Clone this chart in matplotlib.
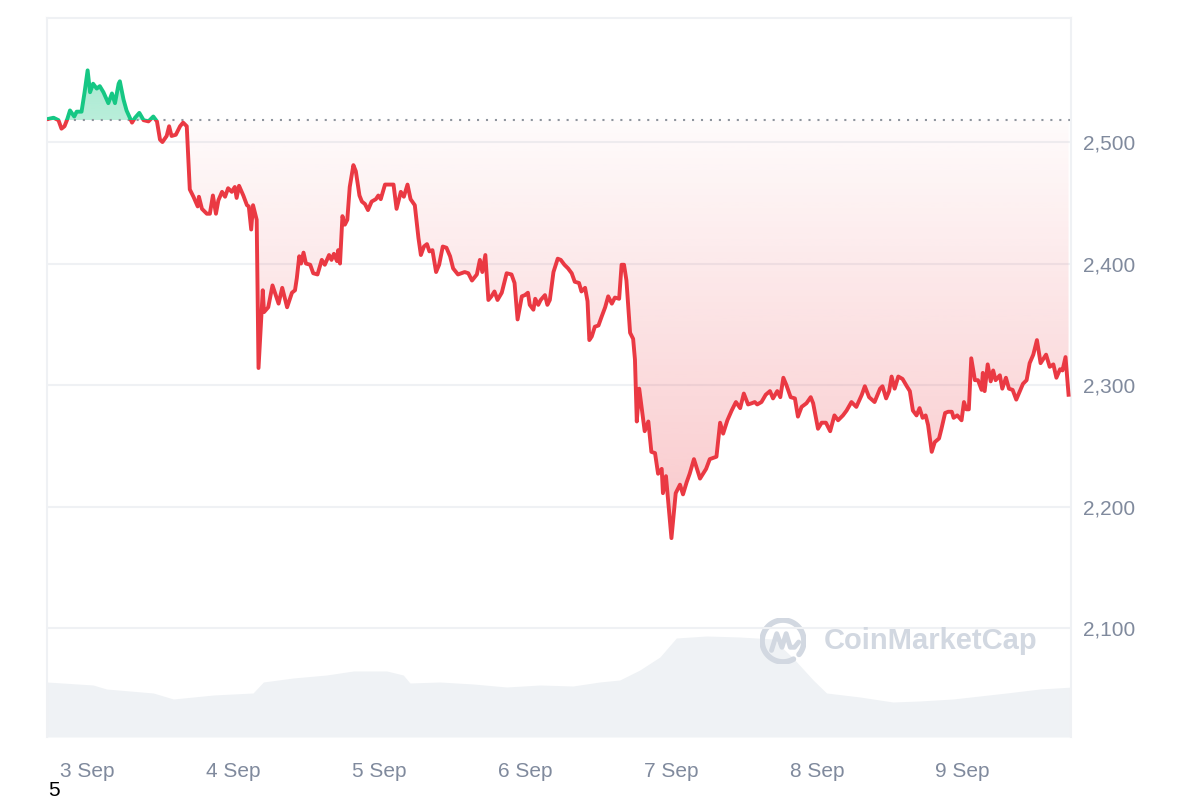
import numpy as np
import matplotlib
matplotlib.use("Agg")
from matplotlib import pyplot as plt
from matplotlib.patches import Rectangle, PathPatch
from matplotlib.path import Path

plt.rcParams['font.family'] = ['Liberation Sans', 'DejaVu Sans']

# hours counted from 3 Sep 00:00
price_hours = [
    -6.4, -5.5, -4.7, -4.2, -3.7, -3.3, -2.8, -2.1, -1.7, -0.9, -0.4, 0.1,
    0.5, 1.0, 1.6, 2.1, 2.7, 3.5, 4.1, 4.6, 5.2, 5.4, 6.0, 6.5, 7.4, 7.9,
    8.6, 9.3, 10.1, 10.9, 11.5, 12.0, 12.4, 13.1, 13.5, 13.9, 14.6, 15.3,
    15.8, 16.4, 16.9, 17.5, 18.2, 18.4, 18.9, 19.7, 20.2, 20.7, 21.2, 21.6,
    22.2, 22.7, 23.2, 23.8, 24.3, 24.6, 25.0, 25.7, 26.3, 26.6, 27.0, 27.3,
    27.9, 28.2, 28.9, 29.1, 29.8, 30.5, 31.1, 31.5, 32.1, 32.9, 33.7, 34.2,
    34.5, 34.9, 35.2, 35.6, 36.0, 36.7, 37.2, 37.9, 38.6, 39.1, 39.8, 40.2,
    40.6, 41.1, 41.3, 41.6, 42.0, 42.4, 42.8, 43.2, 43.8, 44.2, 44.8, 45.2,
    45.7, 46.2, 46.8, 47.5, 47.9, 48.3, 49.0, 49.8, 50.4, 50.9, 51.6, 52.1,
    52.7, 53.2, 53.9, 54.5, 54.9, 55.4, 55.9, 56.3, 56.8, 57.4, 57.9, 58.5,
    59.1, 59.7, 60.2, 61.0, 62.1, 62.7, 63.3, 64.1, 64.6, 65.0, 65.5, 66.0,
    66.5, 67.0, 67.5, 68.2, 69.0, 69.8, 70.3, 70.8, 71.5, 72.0, 72.5, 72.8,
    73.4, 73.7, 74.2, 74.6, 75.3, 75.7, 76.1, 76.7, 77.4, 77.9, 78.5, 79.1,
    79.7, 80.2, 80.9, 81.3, 81.9, 82.3, 82.6, 83.0, 83.5, 84.1, 84.6, 85.2,
    85.7, 86.3, 86.8, 87.5, 87.9, 88.3, 88.7, 89.3, 89.8, 90.1, 90.4, 90.8,
    91.4, 91.7, 92.3, 92.8, 93.4, 93.9, 94.5, 94.7, 95.2, 96.1, 96.8, 97.5,
    98.0, 98.6, 99.1, 99.8, 100.8, 101.8, 102.4, 103.5, 104.1, 104.6, 105.3,
    106.0, 106.7, 107.4, 108.0, 108.7, 109.3, 109.8, 110.2, 110.9, 111.6,
    112.3, 112.8, 113.5, 114.0, 114.5, 115.0, 115.7, 116.4, 116.9, 117.5,
    118.3, 119.0, 119.4, 120.2, 120.8, 121.5, 122.2, 122.9, 123.5, 124.3,
    124.9, 125.7, 126.5, 127.4, 127.9, 128.6, 129.5, 130.4, 130.8, 131.4,
    131.9, 132.3, 132.8, 133.4, 134.1, 134.8, 135.3, 135.8, 136.4, 136.9,
    137.4, 137.9, 138.3, 138.9, 139.4, 140.1, 140.5, 141.1, 141.6, 142.2,
    142.5, 143.1, 143.8, 144.2, 144.6, 145.0, 145.4, 146.0, 146.5, 147.1,
    147.3, 147.6, 148.1, 148.6, 149.0, 149.4, 150.1, 150.5, 151.1, 151.6,
    152.2, 152.8, 153.4, 153.9, 154.5, 155.0, 155.6, 156.2, 156.8, 157.7,
    158.3, 158.9, 159.4, 160.0, 160.4, 160.9, 161.4,
]
price_values = [
    2519, 2520, 2518, 2511, 2513, 2518, 2526, 2521, 2525, 2525, 2541, 2559,
    2541, 2548, 2544, 2546, 2541, 2532, 2540, 2532, 2548, 2550, 2535, 2526,
    2516, 2520, 2524, 2518, 2517, 2521, 2517, 2502, 2500, 2505, 2513, 2505,
    2506, 2513, 2516, 2513, 2461, 2455, 2447, 2455, 2445, 2441, 2441, 2456,
    2441, 2452, 2459, 2455, 2462, 2459, 2463, 2454, 2464, 2456, 2448, 2447,
    2428, 2448, 2436, 2314, 2378, 2360, 2364, 2382, 2373, 2367, 2380, 2364,
    2376, 2378, 2388, 2406, 2400, 2409, 2400, 2399, 2392, 2391, 2403, 2399,
    2407, 2403, 2408, 2402, 2411, 2400, 2439, 2432, 2436, 2463, 2481, 2476,
    2456, 2451, 2449, 2444, 2451, 2453, 2456, 2453, 2465, 2465, 2465, 2445,
    2459, 2455, 2465, 2453, 2448, 2421, 2407, 2414, 2416, 2410, 2411, 2393,
    2399, 2414, 2413, 2406, 2396, 2391, 2393, 2392, 2386, 2391, 2403, 2393,
    2407, 2370, 2373, 2377, 2370, 2376, 2392, 2391, 2384, 2354, 2373, 2374,
    2376, 2366, 2362, 2371, 2366, 2370, 2374, 2366, 2370, 2393, 2404, 2403,
    2399, 2396, 2392, 2385, 2384, 2377, 2380, 2369, 2337, 2340, 2348, 2349,
    2356, 2364, 2373, 2367, 2372, 2371, 2399, 2399, 2386, 2343, 2338, 2321,
    2270, 2297, 2274, 2262, 2270, 2245, 2244, 2227, 2231, 2211, 2225, 2174,
    2211, 2218, 2210, 2220, 2227, 2239, 2223, 2231, 2239, 2241, 2269, 2260,
    2271, 2279, 2286, 2281, 2293, 2284, 2285, 2286, 2284, 2286, 2292, 2295,
    2289, 2295, 2290, 2306, 2300, 2290, 2289, 2274, 2282, 2285, 2290, 2285,
    2264, 2269, 2269, 2262, 2275, 2271, 2275, 2279, 2286, 2282, 2292, 2299,
    2290, 2286, 2297, 2299, 2289, 2295, 2307, 2297, 2307, 2305, 2299, 2295,
    2279, 2275, 2281, 2273, 2275, 2267, 2245, 2253, 2256, 2264, 2277, 2278,
    2278, 2273, 2275, 2271, 2286, 2280, 2280, 2322, 2304, 2304, 2296, 2310,
    2295, 2317, 2303, 2312, 2304, 2308, 2297, 2306, 2297, 2296, 2288, 2295,
    2301, 2304, 2318, 2325, 2337, 2318, 2325, 2315, 2317, 2306, 2313, 2312,
    2323, 2292,
]
open_price = 2518

volume_hours = [
    -6.6, 1.0, 3.2, 10.9, 14.2, 17.5, 20.8, 27.3, 29.0, 33.9, 39.4, 43.8,
    49.3, 52.0, 53.1, 58.0, 63.5, 69.0, 74.5, 79.9, 84.3, 87.6, 90.9, 94.2,
    96.9, 101.9, 107.3, 112.8, 116.1, 119.4, 121.6, 127.1, 132.5, 136.9,
    142.4, 146.8, 151.2, 156.7, 162.1,
]
volume_values = [
    5.5, 5.2, 4.8, 4.4, 3.8, 4.0, 4.2, 4.4, 5.5, 5.9, 6.2, 6.6, 6.6, 6.2,
    5.4, 5.5, 5.3, 5.0, 5.2, 5.1, 5.5, 5.7, 6.7, 8.0, 9.9, 10.1, 10.0, 9.8,
    7.9, 5.7, 4.4, 4.0, 3.5, 3.6, 3.8, 4.1, 4.4, 4.8, 5.0,
]

day_hours = [0, 24, 48, 72, 96, 120, 144]
day_labels = ['3 Sep', '4 Sep', '5 Sep', '6 Sep', '7 Sep', '8 Sep', '9 Sep']
price_ticks = [2100, 2200, 2300, 2400, 2500]
price_tick_labels = ['2,100', '2,200', '2,300', '2,400', '2,500']

RED = '#ea3943'
GREEN = '#16c784'
FRAME = '#eff1f4'
LABEL = '#808a9d'


def gradient(color, a_top, a_bottom, n=256):
    """Vertical RGBA strip going from a_top to a_bottom alpha"""
    rgb = matplotlib.colors.to_rgb(color)
    img = np.zeros((n, 1, 4))
    img[:, 0, :3] = rgb
    img[:, 0, 3] = np.linspace(a_top, a_bottom, n)
    return img


def display():
    fig = plt.figure(figsize=(12, 8), dpi=100)
    ax = fig.add_axes([47 / 1200, 63 / 800, 1024 / 1200, 719 / 800])
    xmin, xmax = -6.58, 161.8
    ymin, ymax = 2010.3, 2602.1

    # volume in the background
    vol_ax = ax.twinx()
    vol_ax.fill_between(volume_hours, volume_values, 0, color='#eff2f5', lw=0)
    vol_ax.set_ylim(0, 71.9)
    vol_ax.set_yticks([])
    for s in vol_ax.spines.values():
        s.set_visible(False)
    ax.set_zorder(vol_ax.get_zorder() + 1)
    ax.patch.set_visible(False)

    # area between price and opening price
    coll = ax.fill_between(price_hours, price_values, open_price, lw=0)
    area = Path.make_compound_path(*coll.get_paths())
    coll.remove()
    low = min(price_values)
    high = max(price_values)
    red_img = ax.imshow(gradient(RED, 0.02, 0.28), aspect='auto',
                        extent=[xmin, xmax, low, open_price], zorder=1)
    red_img.set_clip_path(PathPatch(area, transform=ax.transData))
    green_img = ax.imshow(gradient(GREEN, 0.38, 0.30), aspect='auto',
                          extent=[xmin, xmax, open_price, high], zorder=1)
    green_img.set_clip_path(PathPatch(area, transform=ax.transData))

    # price line, green above opening price, red below
    below = Rectangle((xmin, ymin), xmax - xmin, open_price - ymin,
                      transform=ax.transData)
    above = Rectangle((xmin, open_price), xmax - xmin, ymax - open_price,
                      transform=ax.transData)
    red_line, = ax.plot(price_hours, price_values, color=RED, lw=2.8,
                        solid_joinstyle='round', zorder=3)
    red_line.set_clip_path(below)
    green_line, = ax.plot(price_hours, price_values, color=GREEN, lw=2.8,
                          solid_joinstyle='round', zorder=3)
    green_line.set_clip_path(above)

    ax.axhline(open_price, color='#8f959e', lw=1.5, ls=(0, (1, 3.3)), zorder=2)

    ax.set_xlim(xmin, xmax)
    ax.set_ylim(ymin, ymax)
    ax.set_xticks(day_hours, day_labels)
    ax.yaxis.tick_right()
    ax.set_yticks(price_ticks, price_tick_labels)
    ax.tick_params(axis='y', length=0, pad=9, labelsize=15, labelcolor=LABEL)
    ax.tick_params(axis='x', length=0, pad=18, labelsize=15, labelcolor=LABEL)
    ax.grid(axis='y', color=FRAME, lw=1.5)
    ax.set_axisbelow(True)
    ax.spines['bottom'].set_visible(False)
    for side in ['left', 'right', 'top']:
        ax.spines[side].set_color(FRAME)
        ax.spines[side].set_linewidth(1.5)

    # watermark
    fig.text(931 / 1200, 1 - 641 / 800, 'CoinMarketCap', ha='center',
             va='center', fontsize=21, fontweight='bold', color='#d2d8e1')
    logo = fig.add_axes([760 / 1200, 1 - 664 / 800, 46 / 1200, 46 / 800])
    logo.set_xlim(-1.1, 1.1)
    logo.set_ylim(-1.1, 1.1)
    logo.axis('off')
    t = np.linspace(np.radians(-40), np.radians(300), 100)
    logo.plot(np.cos(t), np.sin(t), color='#d2d8e1', lw=4,
              solid_capstyle='round')
    logo.plot([-0.55, -0.3, -0.05, 0.15, 0.35, 0.55, 0.75],
              [-0.45, 0.35, -0.3, 0.35, -0.3, -0.3, -0.05],
              color='#d2d8e1', lw=3.5, solid_joinstyle='round',
              solid_capstyle='round')

    fig.text(54 / 1200, 1 - 790 / 800, '5', ha='center', va='center',
             fontsize=15, color='black')

    fig.savefig('out.png', dpi=100)


if __name__ == "__main__":
    display()
